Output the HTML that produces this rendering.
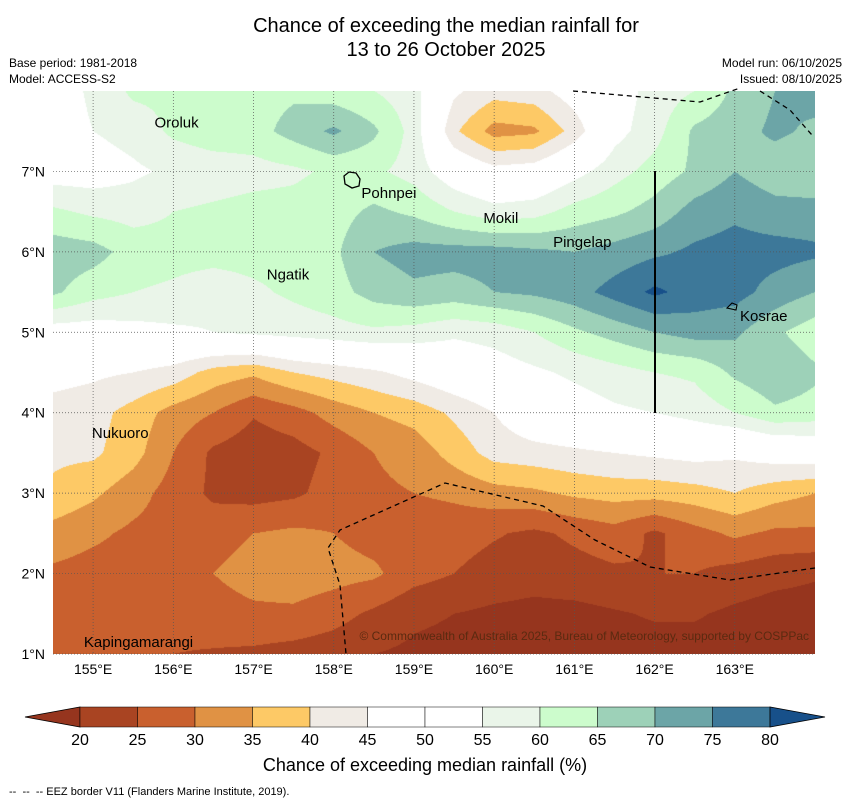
<!DOCTYPE html>
<html><head><meta charset="utf-8">
<style>
body{margin:0;background:#fff;font-family:"Liberation Sans","DejaVu Sans",sans-serif;}
#wrap{position:relative;width:850px;height:804px;overflow:hidden;background:#fff;}
.t{position:absolute;white-space:nowrap;color:#000;}
</style></head>
<body>
<div id="wrap">
<div class="t" style="left:0;width:892px;top:14px;text-align:center;font-size:20px;line-height:24px;">Chance of exceeding the median rainfall for<br>13 to 26 October 2025</div>
<div class="t" style="left:9px;top:55px;font-size:12px;line-height:16px;">Base period: 1981-2018<br>Model: ACCESS-S2</div>
<div class="t" style="right:8px;top:55px;font-size:12px;line-height:16px;text-align:right;">Model run: 06/10/2025<br>Issued: 08/10/2025</div>
<canvas id="map" width="762" height="563" style="position:absolute;left:53px;top:91px;"></canvas>
<svg id="ov" width="850" height="804" style="position:absolute;left:0;top:0;"></svg>
<div class="t" style="left:0;width:850px;top:755px;text-align:center;font-size:18px;">Chance of exceeding median rainfall (%)</div>
<div class="t" style="left:9px;top:786px;font-size:11px;">-- &nbsp;-- &nbsp;-- EEZ border V11 (Flanders Marine Institute, 2019).</div>
</div>
<script>
const lons=[154.5,155,155.5,156,156.5,157,157.5,158,158.5,159,159.5,160,160.5,161,161.5,162,162.5,163,163.5,164];
const lats=[8,7.5,7,6.5,6,5.5,5,4.5,4,3.5,3,2.5,2,1.5,1];
const r80=[52,56,61,61,62,63,64,62,60,57,46,42,43,48,52,57,60,66,70,72];
const r75=[52,55,57,61,63,63,67,71,66,58,41,33,34,42,53,58,66,68,71,69];
const r70=[52,52,54,56,57,58,59,61,61,58,51,47,48,53,58,62,66,70,67,66];
const r65=[61,59,58,60,61,62,62,63,66,64,60,57,58,62,64,67,72,74,72,72];
const r60=[68,67,63,62,62,62,62,64,70,72,72,72,71,70,72,74,76,77,77,76];
const r55=[66,62,60,59,57,59,61,63,67,69,68,70,71,73,77,81,78,77,73,70];
const r50=[52,52,53,54,55,56,57,58,59,58,56,57,60,64,67,70,72,71,66,62];
const r45=[47,46,45,43,38,36,40,42,44,47,50,52,54,56,58,60,61,66,69,66];
const r40=[43,42,38,33,30,25.5,28,32,35,37,41,45,50,52,54,55,57,60,64,63];
const r35=[41,41,37,30,24,22,23,26,30,32,37,42,43,44,45,46,47,46,48,49];
const r30=[39,36,32,28,24,23,24,27,29,30,31,33,34,36,37,37,38,40,37,35];
const r25=[33,31,29,28,28,30,31,30,28,27,27,25.5,24,26,28,24,28,31,29,29];
const r20=[29,28,28,28,30,32,33,32,31,27,25,23,22,23,24,25,25,23,21.5,20.5];
const r15=[27,27,27,27,28,29,29,27,24,21,20,19,18.5,18.5,19.5,20.5,20.5,19,18,18];
const r10=[26,26,25.5,25,24.5,24,23,22,20,19,18.5,18,18,18,18,18,18,18,18,18];
const grid=[r80,r75,r70,r65,r60,r55,r50,r45,r40,r35,r30,r25,r20,r15,r10];
const levels=[20,25,30,35,40,45,50,55,60,65,70,75,80];
const colors=["#96351e","#a94422","#c9602e","#e09244","#fdc966","#f0ebe5","#ffffff","#ffffff","#eaf5e9","#ccfccc","#9dd1b8","#6ca5a7","#3d7899","#17508a"];
const lonTicks=[155,156,157,158,159,160,161,162,163];
const latTicks=[1,2,3,4,5,6,7];
const places=[["Oroluk",155.74,7.61],["Pohnpei",158.32,6.73],["Mokil",159.84,6.42],["Pingelap",160.71,6.12],["Ngatik",157.14,5.72],["Kosrae",163.04,5.20],["Nukuoro",154.96,3.75],["Kapingamarangi",154.86,1.15]];
const X0=53,X1=815,Y0=91,Y1=654,LON0=154.5,LON1=164,LAT0=8,LAT1=1;
const xS=l=>X0+(l-LON0)/(LON1-LON0)*(X1-X0);
const yS=l=>Y0+(LAT0-l)/(LAT0-LAT1)*(Y1-Y0);
const xInv=x=>LON0+(x-X0)/(X1-X0)*(LON1-LON0);
const yInv=y=>LAT0-(y-Y0)/(Y1-Y0)*(LAT0-LAT1);
function val(lo,la){
 let fi=(lo-lons[0])/(lons[1]-lons[0]);let fj=(lats[0]-la)/(lats[0]-lats[1]);
 fi=Math.max(0,Math.min(lons.length-1.0001,fi));fj=Math.max(0,Math.min(lats.length-1.0001,fj));
 const i=Math.floor(fi),j=Math.floor(fj),a=fi-i,b=fj-j;
 return grid[j][i]*(1-a)*(1-b)+grid[j][i+1]*a*(1-b)+grid[j+1][i]*(1-a)*b+grid[j+1][i+1]*a*b;
}
function colorOf(v){let k=0;while(k<levels.length&&v>=levels[k])k++;return colors[k];}
function hex(c){return[parseInt(c.substr(1,2),16),parseInt(c.substr(3,2),16),parseInt(c.substr(5,2),16)];}
const cv=document.getElementById('map');const ctx=cv.getContext('2d');
const img=ctx.createImageData(cv.width,cv.height);
for(let py=0;py<cv.height;py++){for(let px=0;px<cv.width;px++){
 const v=val(xInv(X0+px+0.5),yInv(Y0+py+0.5));const c=hex(colorOf(v));const o=(py*cv.width+px)*4;
 img.data[o]=c[0];img.data[o+1]=c[1];img.data[o+2]=c[2];img.data[o+3]=255;}}
ctx.putImageData(img,0,0);
const NS='http://www.w3.org/2000/svg';const svg=document.getElementById('ov');
function el(tag,attrs,parent){const e=document.createElementNS(NS,tag);for(const k in attrs)e.setAttribute(k,attrs[k]);(parent||svg).appendChild(e);return e;}
lonTicks.forEach(l=>{
 const g=el('line',{x1:xS(l),x2:xS(l),y1:Y0,y2:Y1,stroke:'#555','stroke-width':0.7,'stroke-dasharray':'1,2'});
 
 
 const t=el('text',{x:xS(l),y:674,'text-anchor':'middle','font-size':14,'font-family':'Liberation Sans, sans-serif'});t.textContent=l+'°E';
 
 
});
latTicks.forEach(l=>{
 const g=el('line',{x1:X0,x2:X1,y1:yS(l),y2:yS(l),stroke:'#555','stroke-width':0.7,'stroke-dasharray':'1,2'});
 
 
 const t=el('text',{x:45,y:yS(l)+5,'text-anchor':'end','font-size':14,'font-family':'Liberation Sans, sans-serif'});t.textContent=l+'°N';
 
 
});
const e1=el('polyline',{points:'573,91 700,102 740,88',fill:'none',stroke:'#000','stroke-width':1.3,'stroke-dasharray':'5,4'});


const e2=el('polyline',{points:'760,91 790,110 812,135',fill:'none',stroke:'#000','stroke-width':1.3,'stroke-dasharray':'5,4'});


const e3=el('polyline',{points:'815,568 730,580 650,567 595,540 543,506 445,483 340,530 328,548 340,585 346,654',fill:'none',stroke:'#000','stroke-width':1.3,'stroke-dasharray':'5,4'});


const vl=el('line',{x1:655,x2:655,y1:171,y2:413,stroke:'#000','stroke-width':2});


const pp=el('path',{d:'M344,176 L349,172 L356,173 L360,179 L359,186 L352,188 L345,184 Z',fill:'none',stroke:'#000','stroke-width':1.3});


const ks=el('path',{d:'M727,308 L732,303 L737,305 L736,310 Z',fill:'none',stroke:'#000','stroke-width':1.1});


places.forEach(p=>{
 const t=el('text',{x:xS(p[1])+2,y:yS(p[2])+5,'font-size':15,'font-family':'Liberation Sans, sans-serif'});t.textContent=p[0];
 
 
});
const cp=el('text',{x:809,y:640,'text-anchor':'end','font-size':12,fill:'#5a2a10','font-family':'Liberation Sans, sans-serif'});cp.textContent='© Commonwealth of Australia 2025, Bureau of Meteorology, supported by COSPPac';


const CB0=80,CB1=770,CBY=707,CBH=20;
const cbx=v=>CB0+(v-levels[0])/(levels[levels.length-1]-levels[0])*(CB1-CB0);
const lo=el('polygon',{points:`${CB0},${CBY} ${CB0},${CBY+CBH} 25,${CBY+CBH/2}`,fill:colors[0],stroke:'#000','stroke-width':0.8});


for(let k=0;k<levels.length-1;k++){
 const r=el('rect',{x:cbx(levels[k]),y:CBY,width:cbx(levels[k+1])-cbx(levels[k]),height:CBH,fill:colors[k+1],stroke:'#000','stroke-width':0.5});
 
 
}
const hi=el('polygon',{points:`${CB1},${CBY} ${CB1},${CBY+CBH} 825,${CBY+CBH/2}`,fill:colors[colors.length-1],stroke:'#000','stroke-width':0.8});


levels.forEach(v=>{
 const t=el('text',{x:cbx(v),y:745,'text-anchor':'middle','font-size':16,'font-family':'Liberation Sans, sans-serif'});t.textContent=v;
 
 
});
</script>
</body></html>
